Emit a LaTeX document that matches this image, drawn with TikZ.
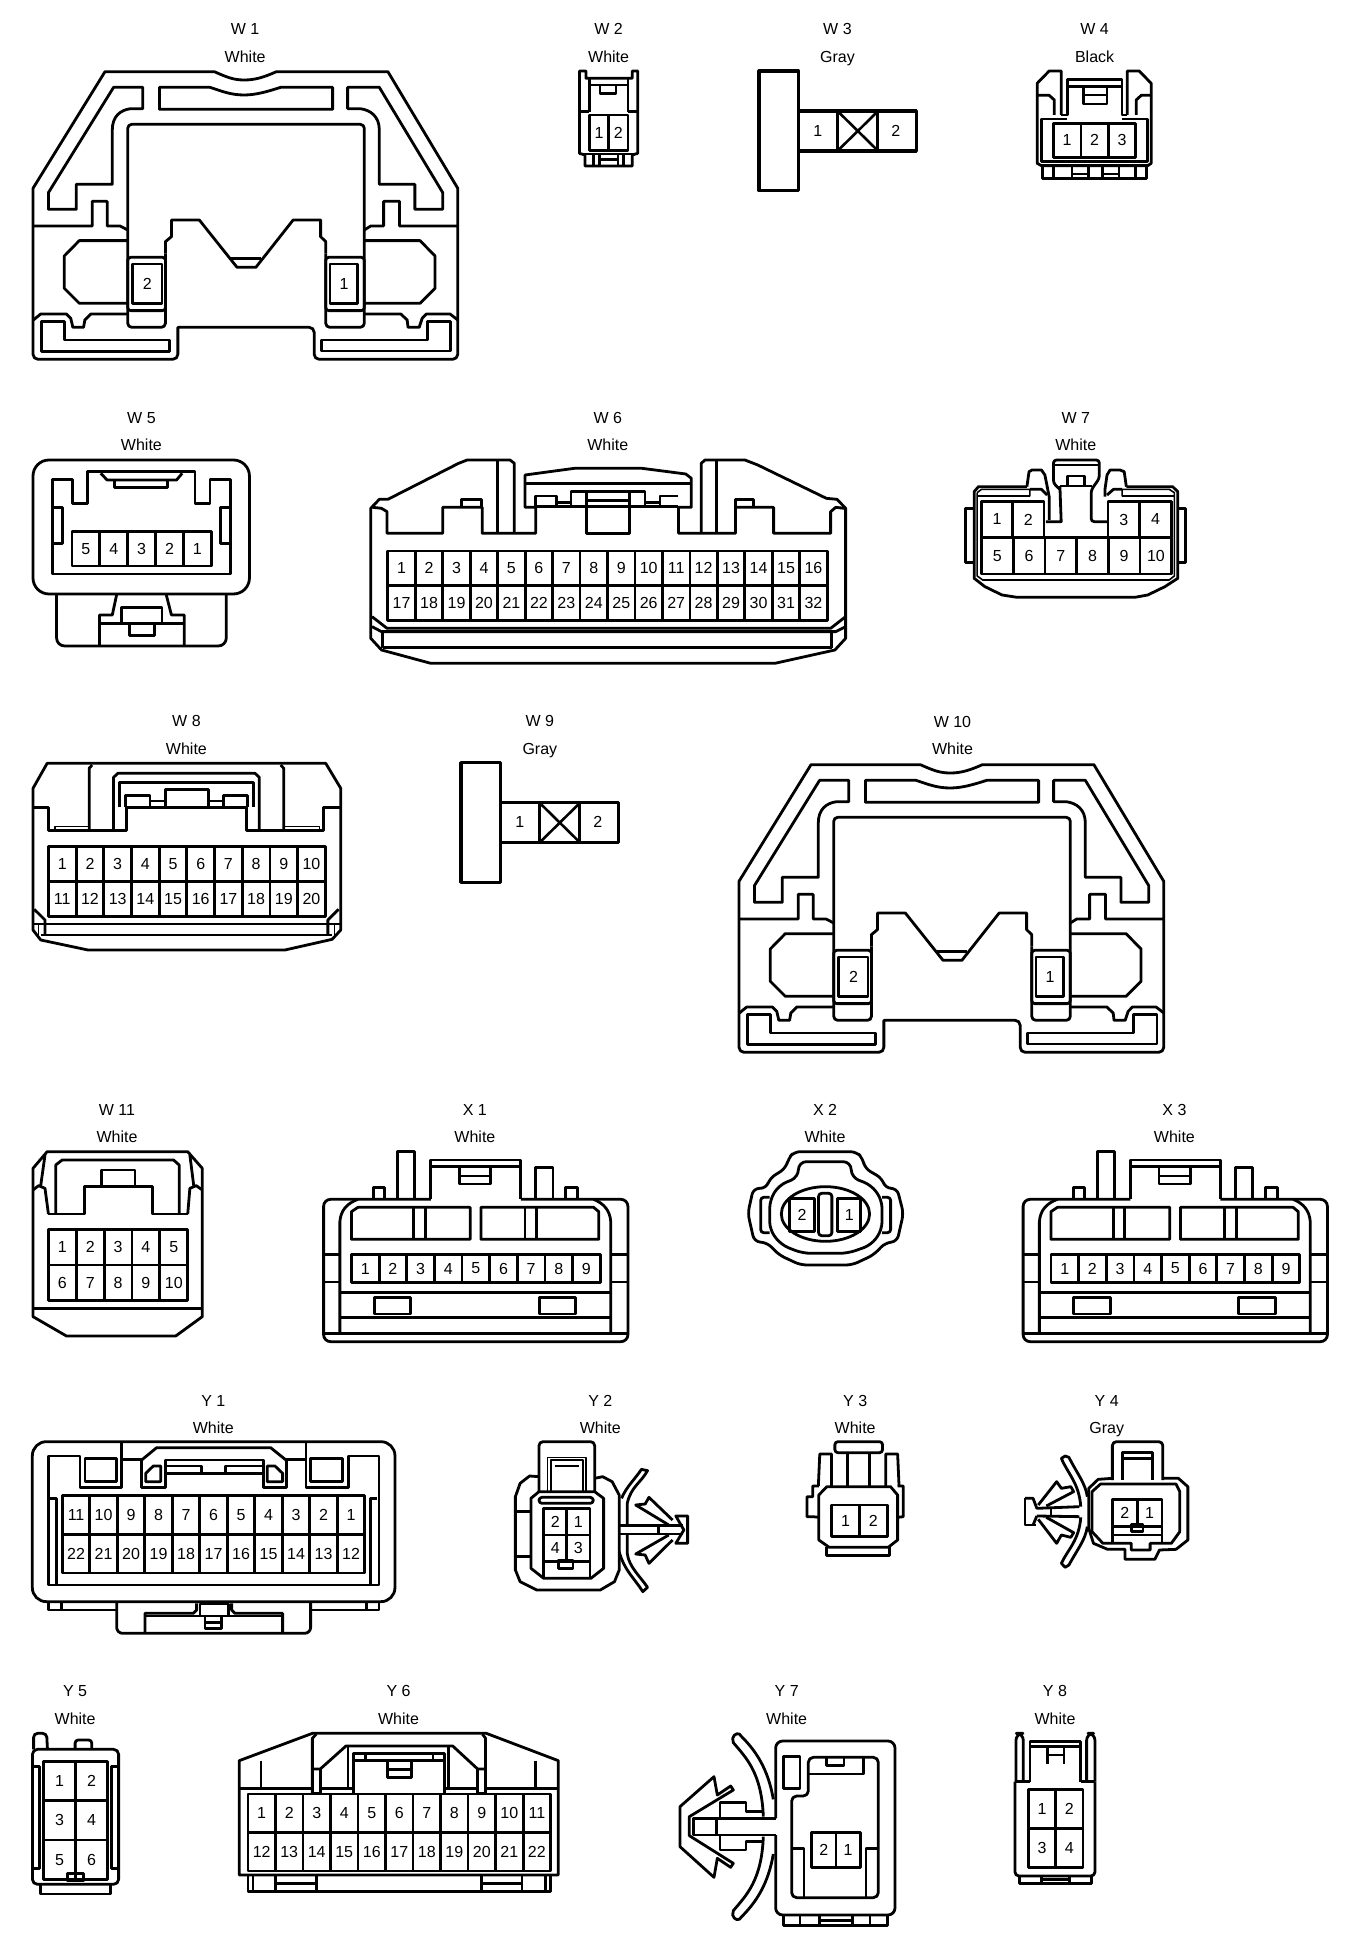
\documentclass[tikz,border=0pt]{standalone}
\usepackage{fontspec}
\setmainfont{Liberation Sans}
\usetikzlibrary{positioning}

% one cell per pin, left to right, wrapped after #6 columns
\newcommand{\pins}[7]{%
  \foreach \n [count=\i from 0] in {#7}{%
    \pgfmathtruncatemacro{\pincol}{mod(\i,#6)}%
    \pgfmathtruncatemacro{\pinrow}{int(\i/#6)}%
    \draw (#2+\pincol*#4,#3+\pinrow*#5) rectangle ++(#4,#5);
    \node[pin] (#1-\n) at (#2+\pincol*#4+0.5*#4,#3+\pinrow*#5+0.5*#5) {\n};
  }}
\newcommand{\conlabel}[5]{%
  \node[conlab] (#1name) at (#2,#3) {#4};
  \node[conlab] (#1col) at (#2,#3+82) {#5};}

% W1 and W10
\newcommand{\bracketbody}[1]{%
  \draw (245,215) -- (500,215) .. controls (530,232) and (545,240) .. (570,240) .. controls (595,240) and (615,232) .. (645,215) -- (905,215) -- (1068,565)
    [rounded corners=5pt] -- (1068,1078) -- (733,1078) -- (733,982) [sharp corners] -- (415,982) [rounded corners=5pt] -- (415,1078) -- (77,1078) [sharp corners] -- (77,565) -- cycle;
  \draw (265,262) -- (333,262) -- (333,326) -- (305,326) .. controls (280,330) and (262,350) .. (262,390) -- (262,553) -- (178,553) -- (178,628) -- (113,628) -- (113,578) -- cycle;
  \draw (885,262) -- (811,262) -- (811,326) -- (840,326) .. controls (865,330) and (885,350) .. (885,390) -- (885,553) -- (968,553) -- (968,628) -- (1033,628) -- (1033,578) -- cycle;
  \draw (372,262) -- (490,262) .. controls (520,275) and (540,285) .. (570,285) .. controls (600,285) and (630,272) .. (655,262) -- (776,262) -- (776,328) -- (372,328) -- cycle;
  \draw[rounded corners=4pt] (386,760) -- (386,982) -- (298,982) -- (298,373) -- (850,373) -- (850,982) -- (760,982) -- (760,760);
  \draw (760,760) -- (760,725) -- (748,710) -- (748,660) -- (684,660) -- (597,802) -- (553,802) -- (465,660) -- (400,660) -- (400,710) -- (386,725) -- (386,760);
  \draw (540,776) -- (608,776);
  \draw[rounded corners=3pt] (298,772) rectangle (386,932);
  \draw[rounded corners=3pt] (760,772) rectangle (850,932);
  \draw (77,678) -- (215,678) -- (215,604) -- (250,604) -- (250,678) -- (280,678) -- (298,690);
  \draw (1068,678) -- (932,678) -- (932,604) -- (895,604) -- (895,678) -- (865,678) -- (850,690);
  \draw (298,722) -- (185,722) -- (150,768) -- (150,865) -- (185,910) -- (298,910);
  \draw (850,722) -- (980,722) -- (1015,768) -- (1015,865) -- (980,910) -- (850,910);
  \draw (298,942) -- (212,942) -- (198,960) -- (195,982) -- (170,982) -- (165,955) -- (155,942) -- (95,942) -- (78,960);
  \draw (850,942) -- (935,942) -- (950,960) -- (952,982) -- (978,982) -- (985,955) -- (995,942) -- (1050,942) -- (1068,960);
  \draw (97,965) -- (150,965) -- (150,1020) -- (395,1020) -- (395,1055) -- (97,1055) -- cycle;
  \draw (1052,965) -- (997,965) -- (997,1020) -- (750,1020) -- (750,1053) -- (1052,1053) -- cycle;
  \pins{#1}{310}{792}{68}{118}{1}{2}
  \pins{#1}{770}{792}{65}{118}{1}{1}}

% W3 and W9
\newcommand{\flatbody}[1]{%
  \begin{scope}[line width=3.2pt]
  \draw (203,213) rectangle (295,572);
  \draw (295,333) -- (570,333) -- (570,453) -- (295,453);
  \draw (387,333) -- (387,453) (480,333) -- (480,453);
  \draw[line width=2.6pt] (390,338) -- (477,448) (477,338) -- (390,448);
  \end{scope}
  \node[pin] (#1-1) at (340,392) {1};
  \node[pin] (#1-2) at (522,392) {2};}

% X1 and X3
\newcommand{\widebody}[1]{%
  \draw[rounded corners=7pt] (1005,328) -- (755,328) -- (755,755) -- (1465,755) -- (1465,328) -- (1215,328);
  \draw (1005,328) -- (1005,210) -- (1215,210) -- (1215,328) (1005,230) -- (1215,230);
  \draw (755,730) -- (1465,730);
  \draw (793,730) -- (793,395) .. controls (795,360) and (810,340) .. (835,328);
  \draw (1425,730) -- (1425,395) .. controls (1423,360) and (1408,340) .. (1385,328);
  \draw (835,352) -- (1097,352) -- (1097,448) -- (820,448) -- (820,365) -- cycle;
  \draw (965,352) -- (965,448) (992,352) -- (992,448);
  \draw (1122,352) -- (1385,352) -- (1397,365) -- (1397,448) -- (1122,448) -- cycle;
  \draw (1225,352) -- (1225,448) (1252,352) -- (1252,448);
  \pins{#1}{820}{493}{64.5}{85}{9}{1,...,9}
  \draw (755,493) -- (793,493) (755,576) -- (793,576) (1425,493) -- (1465,493) (1425,576) -- (1465,576);
  \draw (793,608) -- (1425,608) (793,682) -- (1425,682);
  \draw (873,622) rectangle (958,672) (1258,622) rectangle (1343,672);
  \draw (1072,232) -- (1072,282) -- (1145,282) -- (1145,232) (1072,258) -- (1145,258);
  \draw (928,328) -- (928,185) -- (968,185) -- (968,328);
  \draw (1250,328) -- (1250,232) -- (1290,232) -- (1290,328);
  \draw (872,328) -- (872,292) -- (898,292) -- (898,328);
  \draw (1320,328) -- (1320,292) -- (1348,292) -- (1348,328);}

\begin{document}
\begin{tikzpicture}[line width=2.8pt,line join=round,
  crop/.style n args={3}{shift={(#1pt,-#2pt)},x=#3pt,y=-0.3333pt},
  fine/.style={line width=1.6pt},
  pin/.style={inner sep=0pt,font=\fontsize{16}{18}\selectfont},
  conlab/.style={inner sep=0pt,anchor=base,font=\fontsize{16}{18}\selectfont}]
  \useasboundingbox[fill=white] (0pt,0pt) rectangle (1344pt,-1948pt);

  % W1
  \begin{scope}[crop={0}{0}{0.4286}]
  \conlabel{W1}{572}{105}{W 1}{White}
  \bracketbody{W1}
  \end{scope}

  % W2
  \begin{scope}[crop={0}{0}{0.4286}]
  \conlabel{W2}{1420}{105}{W 2}{White}
  \draw (1352,213) -- (1367,213) -- (1367,235) -- (1475,235) -- (1475,213) -- (1488,213) -- (1488,460) -- (1475,465) -- (1475,498) -- (1365,498) -- (1365,465) -- (1352,460) -- cycle;
  \draw (1375,235) -- (1375,335) (1465,235) -- (1465,335) (1352,335) -- (1375,335) (1465,335) -- (1488,335);
  \draw (1375,255) -- (1465,255);
  \draw (1400,255) -- (1400,280) -- (1437,280) -- (1437,255);
  \pins{W2}{1375}{345}{45}{107}{2}{1,2}
  \draw (1352,462) -- (1488,462);
  \draw (1385,465) -- (1385,498) (1398,465) -- (1398,498) (1442,465) -- (1442,498) (1455,465) -- (1455,498) (1398,478) -- (1442,478);
  \end{scope}

  % W3
  \begin{scope}[crop={672}{0}{0.4286}]
  \conlabel{W3}{386}{105}{W 3}{Gray}
  \flatbody{W3}
  \end{scope}

  % W4
  \begin{scope}[crop={672}{0}{0.4286}]
  \conlabel{W4}{986}{105}{W 4}{Black}
  \draw (908,345) -- (908,213) -- (880,213) -- (852,250) -- (852,490) -- (862,497) -- (1110,497) -- (1118,490) -- (1118,250) -- (1090,213) -- (1062,213) -- (1062,345);
  \draw (908,345) -- (922,345) -- (922,238) -- (1050,238) -- (1050,345) -- (1062,345);
  \draw (922,260) -- (1050,260);
  \draw (960,260) -- (960,312) -- (1015,312) -- (1015,260) (960,285) -- (1015,285);
  \draw (852,286) -- (880,286) -- (892,300) -- (892,345);
  \draw (1118,286) -- (1095,286) -- (1083,300) -- (1083,345);
  \draw (922,357) -- (862,357) -- (862,484) -- (1110,484) -- (1110,357) -- (1050,357);
  \pins{W4}{890}{370}{64}{102}{3}{1,2,3}
  \draw (865,497) -- (865,536) -- (1107,536) -- (1107,497);
  \draw (890,497) -- (890,536) (933,497) -- (933,536) (972,497) -- (972,536) (1005,497) -- (1005,536) (1043,497) -- (1043,536) (1082,497) -- (1082,536);
  \draw (933,522) -- (972,522) (1005,522) -- (1043,522);
  \end{scope}

  % W5
  \begin{scope}[crop={0}{400}{0.4286}]
  \conlabel{W5}{330}{69}{W 5}{White}
  \draw[rounded corners=16pt] (77,180) rectangle (582,582);
  \draw (122,238) -- (170,238) -- (170,310) -- (205,310) -- (205,215) -- (455,215) -- (455,310) -- (490,310) -- (490,238) -- (537,238) -- (537,522) -- (122,522) -- cycle;
  \draw (122,322) -- (146,322) -- (146,430) -- (122,430);
  \draw (537,322) -- (515,322) -- (515,430) -- (537,430);
  \draw (235,220) -- (250,240) -- (412,240) -- (425,220);
  \draw (268,240) -- (268,262) -- (390,262) -- (390,240);
  \pins{W5}{168}{395}{65}{103}{5}{5,4,3,2,1}
  \draw[rounded corners=8pt] (132,582) -- (132,738) -- (528,738) -- (528,582);
  \draw (272,585) -- (262,645) -- (232,645) -- (232,738);
  \draw (388,585) -- (400,645) -- (430,645) -- (430,738);
  \draw (232,670) -- (430,670);
  \draw (283,670) -- (283,622) -- (378,622) -- (378,670);
  \draw (303,670) -- (303,706) -- (360,706) -- (360,670);
  \end{scope}

  % W6
  \begin{scope}[crop={0}{400}{0.4286}]
  \conlabel{W6}{1418}{69}{W 6}{White}
  \draw (1200,400) -- (1200,190) -- (1190,180) -- (1090,180) -- (1070,190) -- (905,298) -- (885,298) -- (865,325) -- (865,715) -- (890,750) -- (1005,790) -- (1808,790) -- (1948,750) -- (1973,715) -- (1973,325) -- (1953,298) -- (1928,295) -- (1768,195) -- (1738,180) -- (1645,180) -- (1636,190) -- (1636,400);
  \draw (1160,180) -- (1160,400) (1672,180) -- (1672,400);
  \draw (870,322) -- (890,325) -- (903,335) -- (903,400) -- (1033,400) -- (1033,322) -- (1125,322) -- (1125,400) -- (1250,400) -- (1250,322) -- (1225,322) -- (1225,225) -- (1340,205) -- (1498,205) -- (1600,222) -- (1613,235) -- (1613,322) -- (1583,322) -- (1583,400) -- (1716,400) -- (1716,322) -- (1805,322) -- (1805,400) -- (1938,400) -- (1938,335) -- (1950,322) -- (1970,325);
  \draw (1077,322) -- (1077,298) -- (1123,298) -- (1123,322);
  \draw (1716,322) -- (1716,298) -- (1758,298) -- (1758,322);
  \draw (1225,250) -- (1613,250);
  \draw (1250,320) -- (1250,288) -- (1298,288) -- (1298,320) (1298,308) -- (1332,308);
  \draw (1332,320) -- (1332,275) -- (1505,275) -- (1505,320) (1505,308) -- (1540,308);
  \draw (1540,320) -- (1540,288) -- (1583,288);
  \draw (1368,275) -- (1368,400) -- (1468,400) -- (1468,275) (1368,302) -- (1468,302);
  \draw (1250,320) -- (1583,320);
  \pins{W6}{905}{453}{64.06}{104.5}{16}{1,...,32}
  \draw (868,650) -- (903,685) -- (1938,685) -- (1973,650);
  \draw (868,680) -- (890,695) -- (1950,695) -- (1973,680);
  \draw (893,692) -- (893,745) (1940,692) -- (1940,745) (893,743) -- (1940,743);
  \end{scope}

  % W7
  \begin{scope}[crop={672}{400}{0.4286}]
  \conlabel{W7}{942}{69}{W 7}{White}
  \draw (828,260) -- (715,260) -- (705,275) -- (705,535) -- (730,560) -- (770,585) -- (805,592) -- (1080,592) -- (1110,585) -- (1150,560) -- (1180,535) -- (1180,275) -- (1168,260) -- (1060,260);
  \draw[fine] (712,278) -- (712,528) -- (725,540) -- (1160,540) -- (1172,528) -- (1172,278) -- (1160,268) -- (1050,268) -- (1050,288) -- (1172,288);
  \draw[fine] (712,288) -- (835,288) -- (835,268) -- (722,268) -- (712,278);
  \pins{W7a}{722}{305}{73}{107}{2}{1,2}
  \pins{W7b}{1017}{305}{74}{107}{2}{3,4}
  \pins{W7c}{722}{412}{74}{110}{6}{5,...,10}
  \draw[rounded corners=3pt] (905,268) -- (890,250) -- (890,180) -- (997,180) -- (997,235) -- (978,270) -- (978,365) -- (1015,365);
  \draw (890,195) -- (997,195);
  \draw (905,258) -- (980,258) (922,258) -- (922,228) -- (962,228) -- (962,258);
  \draw (905,258) -- (908,365) -- (872,365);
  \draw (828,260) -- (833,215) -- (840,210) -- (862,210) -- (870,225) -- (880,290) -- (880,360);
  \draw (1060,260) -- (1055,215) -- (1045,210) -- (1022,210) -- (1015,225) -- (1010,270) -- (1010,290);
  \draw (835,268) -- (862,268) -- (875,285) (1050,268) -- (1030,268) -- (1015,285);
  \draw (705,325) -- (685,325) -- (685,487) -- (705,487);
  \draw (1180,325) -- (1198,325) -- (1198,487) -- (1180,487);
  \end{scope}

  % W8
  \begin{scope}[crop={0}{700}{0.4286}]
  \conlabel{W8}{435}{80}{W 8}{White}
  \draw (110,190) -- (760,190) -- (795,265) -- (795,690) -- (775,718) -- (665,750) -- (205,750) -- (95,720) -- (77,690) -- (77,265) -- cycle;
  \draw (77,322) -- (113,322) -- (113,392) -- (295,392) -- (295,322) -- (575,322) -- (575,392) -- (755,392) -- (755,322) -- (795,322);
  \draw (208,392) -- (208,205) -- (215,195) (662,392) -- (662,205) -- (655,195);
  \draw (265,392) -- (265,232) -- (275,220) -- (595,220) -- (605,232) -- (605,392);
  \draw (278,322) -- (278,248) -- (592,248) -- (592,322);
  \draw (292,322) -- (292,287) -- (350,287) -- (350,320) (350,303) -- (387,303);
  \draw (387,322) -- (387,268) -- (487,268) -- (487,322) (487,303) -- (522,303);
  \draw (522,322) -- (522,287) -- (578,287) -- (578,322);
  \draw[fine] (128,392) -- (128,380) -- (208,380) (662,380) -- (745,380) -- (745,392);
  \pins{W8}{113}{440}{64.6}{105}{10}{1,...,20}
  \draw (77,672) -- (795,672) (95,705) -- (775,705);
  \draw (80,628) -- (105,660) -- (105,705) (790,628) -- (765,660) -- (765,705);
  \draw[fine] (90,672) -- (90,705) (780,672) -- (780,705);
  \end{scope}

  % W9
  \begin{scope}[crop={374}{691.7}{0.4286}]
  \conlabel{W9}{387}{105}{W 9}{Gray}
  \flatbody{W9}
  \end{scope}

  % W10
  \begin{scope}[crop={706}{693}{0.4286}]
  \conlabel{W10}{575}{102}{W 10}{White}
  \bracketbody{W10}
  \end{scope}

  % W11
  \begin{scope}[crop={0}{1090}{0.4286}]
  \conlabel{W11}{273}{75}{W 11}{White}
  \draw (110,185) -- (438,185) -- (472,235) -- (472,680) -- (410,738) -- (155,738) -- (77,680) -- (77,235) -- cycle;
  \draw (77,655) -- (472,655);
  \draw (113,372) -- (197,372) -- (197,290) -- (355,290) -- (355,372) -- (438,372);
  \draw (237,290) -- (237,240) -- (315,240) -- (315,290);
  \draw (130,372) -- (130,225) -- (145,210) -- (405,210) -- (418,225) -- (418,372);
  \draw (77,300) -- (90,287) -- (105,295) -- (113,372) (105,195) -- (95,287);
  \draw (472,300) -- (458,287) -- (443,295) -- (438,372) (443,195) -- (452,287);
  \pins{W11}{113}{418}{65}{107}{5}{1,...,10}
  \end{scope}

  % X1
  \begin{scope}[crop={0}{1090}{0.4286}]
  \conlabel{X1}{1108}{75}{X 1}{White}
  \widebody{X1}
  \end{scope}

  % X2
  \begin{scope}[crop={672}{1090}{0.4286}]
  \conlabel{X2}{357}{75}{X 2}{White}
  \draw[rounded corners=6pt] (285,185) -- (430,185) -- (445,205) -- (450,235) -- (490,265) -- (498,295) -- (525,295) -- (540,370) -- (525,455) -- (498,458) -- (470,495) -- (420,525) -- (300,525) -- (250,495) -- (222,458) -- (192,455) -- (177,370) -- (190,295) -- (220,295) -- (228,265) -- (265,235) -- (272,205) -- cycle;
  \draw[rounded corners=8pt] (295,262) -- (295,215) -- (418,215) -- (418,262) -- (465,285) -- (490,330) -- (490,420) -- (465,465) -- (410,490) -- (305,490) -- (255,465) -- (228,420) -- (228,330) -- (250,285) -- cycle;
  \draw (358,372) ellipse [x radius=103,y radius=82];
  \pins{X2}{275}{325}{57}{100}{1}{2}
  \pins{X2}{387}{325}{53}{100}{1}{1}
  \draw[rounded corners=3pt] (342,310) rectangle (373,437);
  \draw[rounded corners=3pt] (228,322) -- (207,322) -- (207,428) -- (228,428);
  \draw[rounded corners=3pt] (490,322) -- (510,322) -- (510,428) -- (490,428);
  \end{scope}

  % X3
  \begin{scope}[crop={699.5}{1090}{0.4286}]
  \conlabel{X3}{1108}{75}{X 3}{White}
  \widebody{X3}
  \end{scope}

  % Y1
  \begin{scope}[crop={0}{1380}{0.3333}]
  \conlabel{Y1}{640}{78}{Y 1}{White}
  \draw[rounded corners=14pt] (97,185) rectangle (1185,665);
  \draw (145,615) -- (145,228) -- (240,228) -- (240,322) -- (365,322) -- (365,238) -- (425,238) -- (425,322) -- (497,322) -- (497,240) -- (790,240) -- (790,322) -- (860,322) -- (860,238) -- (918,238) -- (918,322) -- (1045,322) -- (1045,228) -- (1137,228) -- (1137,615) -- cycle;
  \draw (365,185) -- (365,238) (918,185) -- (918,238);
  \draw (425,240) -- (470,203) -- (812,203) -- (858,240);
  \draw (255,235) rectangle (350,305) (932,235) rectangle (1027,305);
  \draw (437,305) -- (437,280) -- (460,258) -- (482,258) -- (482,305) -- cycle;
  \draw (848,305) -- (848,280) -- (825,258) -- (802,258) -- (802,305) -- cycle;
  \draw (497,258) -- (605,258) -- (605,280) (497,280) -- (790,280) (677,280) -- (677,258) -- (790,258);
  \pins{Y1}{187}{347}{82.5}{116}{11}{11,10,9,8,7,6,5,4,3,2,1,22,21,20,19,18,17,16,15,14,13,12}
  \draw (150,355) -- (170,355) -- (170,612) (1132,355) -- (1112,355) -- (1112,612);
  \draw (145,665) -- (145,690) -- (350,690) (185,665) -- (185,688);
  \draw (1137,665) -- (1137,690) -- (932,690) (1100,665) -- (1100,688);
  \draw[rounded corners=6pt] (350,665) -- (350,760) -- (932,760) -- (932,665);
  \draw (435,760) -- (435,700) -- (580,700) -- (590,690) -- (590,670);
  \draw (848,760) -- (848,700) -- (705,700) -- (695,690) -- (695,670);
  \draw (435,708) -- (848,708);
  \draw (600,708) -- (600,672) -- (685,672) -- (685,708);
  \draw (615,708) -- (615,745) -- (665,745) -- (665,708) (615,728) -- (665,728);
  \end{scope}

  % Y2
  \begin{scope}[crop={480}{1380}{0.4719}]
  \conlabel{Y2}{255}{78}{Y 2}{White}
  \draw[rounded corners=4pt] (125,335) -- (125,185) -- (243,185) -- (243,335);
  \draw (125,290) -- (105,288) -- (85,310) -- (75,350) -- (75,570) -- (85,605) -- (120,630) -- (255,630) -- (285,605) -- (295,570) -- (295,345) -- (280,305) -- (260,290) -- (243,295);
  \draw[fine] (143,335) -- (143,233) -- (225,233) -- (225,335);
  \draw[fine] (150,335) -- (150,240) -- (218,240) -- (218,335);
  \draw (158,258) -- (210,258);
  \draw (108,395) -- (108,355) -- (125,335) -- (243,335) -- (262,355) -- (262,565) -- (235,595) -- (135,595) -- (108,565) -- cycle;
  \draw[rounded corners=3pt] (125,352) rectangle (240,370);
  \pins{Y2}{135}{385}{49}{80}{2}{2,1,4,3}
  \draw (135,545) -- (135,595) (233,545) -- (233,595) (167,540) rectangle (197,565);
  \draw (78,395) -- (108,395) (78,530) -- (108,530);
  \draw (300,355) .. controls (310,320) and (330,295) .. (342,268) -- (355,272) .. controls (340,310) and (320,320) .. (312,370) -- (312,435);
  \draw (312,465) -- (312,520) .. controls (315,560) and (340,590) .. (355,622) -- (345,635) .. controls (330,600) and (305,570) .. (295,515);
  \draw (297,437) -- (430,437) (297,462) -- (430,462) (378,437) -- (378,462);
  \draw (400,435) -- (330,375) -- (350,372) -- (358,352) -- (408,420);
  \draw (400,465) -- (330,522) -- (350,525) -- (358,550) -- (408,480);
  \draw (415,408) -- (440,408) -- (440,490) -- (415,490) -- (432,450) -- cycle;
  \end{scope}

  % Y3
  \begin{scope}[crop={480}{1380}{0.4719}]
  \conlabel{Y3}{795}{78}{Y 3}{White}
  \draw[rounded corners=3pt] (752,185) rectangle (853,218);
  \draw (778,218) -- (778,318) (825,218) -- (825,318);
  \draw (745,318) -- (745,222) -- (720,222) -- (717,318);
  \draw (860,318) -- (860,222) -- (885,222) -- (888,318);
  \draw (718,345) -- (735,320) -- (870,320) -- (885,345) -- (885,480) -- (865,502) -- (740,502) -- (718,480) -- cycle;
  \draw (718,318) -- (705,318) -- (705,350) -- (693,350) -- (693,410) -- (705,410) -- (718,412);
  \draw (885,318) -- (897,318) -- (897,410) -- (885,412);
  \draw (735,502) -- (735,527) -- (868,527) -- (868,502);
  \pins{Y3}{745}{375}{59}{95}{2}{1,2}
  \end{scope}

  % Y4
  \begin{scope}[crop={480}{1380}{0.4719}]
  \conlabel{Y4}{1328}{78}{Y 4}{Gray}
  \draw[rounded corners=4pt] (1340,300) -- (1340,185) -- (1447,185) -- (1447,300);
  \draw (1362,300) -- (1362,218) -- (1425,218) -- (1425,300) (1362,235) -- (1425,235);
  \draw (1340,295) -- (1310,298) -- (1290,325) -- (1290,445) -- (1300,490) -- (1330,508) -- (1367,508) -- (1367,538) -- (1430,538) -- (1440,510) -- (1475,508) -- (1500,480) -- (1500,320) -- (1480,295) -- (1447,295);
  \draw (1297,335) -- (1315,312) -- (1475,312) -- (1483,335) -- (1483,455) -- (1465,490) -- (1420,490) -- (1420,510) -- (1380,510) -- (1380,490) -- (1320,490) -- (1297,455) -- cycle;
  \pins{Y4}{1340}{358}{52.5}{82}{2}{2,1}
  \draw (1340,440) -- (1340,490) (1445,440) -- (1445,490) (1340,465) -- (1445,465) (1380,433) rectangle (1405,455);
  \draw (1273,380) .. controls (1270,310) and (1245,280) .. (1232,235) -- (1240,228) -- (1248,232) .. controls (1265,280) and (1283,310) .. (1287,350);
  \draw (1273,412) .. controls (1270,480) and (1245,510) .. (1232,550) -- (1240,562) -- (1248,555) .. controls (1265,510) and (1283,480) .. (1287,440);
  \draw (1155,355) -- (1172,355) -- (1180,385) -- (1270,380) (1180,408) -- (1270,410) (1172,435) -- (1180,408);
  \draw (1155,355) -- (1155,435) -- (1178,435) (1210,382) -- (1210,408);
  \draw (1183,375) -- (1222,305) -- (1232,325) -- (1252,320) -- (1258,335) -- (1200,378);
  \draw (1183,418) -- (1222,490) -- (1232,465) -- (1252,472) -- (1258,458) -- (1200,412);
  \end{scope}

  % Y5
  \begin{scope}[crop={0}{1670}{0.3954}]
  \conlabel{Y5}{190}{80}{Y 5}{White}
  \draw[rounded corners=5pt] (82,238) rectangle (300,643);
  \draw (102,643) -- (102,672) -- (280,672) -- (280,643);
  \draw[rounded corners=4pt] (85,238) -- (85,190) -- (118,190) -- (120,238);
  \draw[rounded corners=3pt] (190,238) -- (190,210) -- (232,210) -- (232,238);
  \pins{Y5}{110}{275}{81}{117.5}{2}{1,...,6}
  \draw (85,290) -- (100,290) -- (100,595) -- (85,595);
  \draw (297,290) -- (282,290) -- (282,595) -- (297,595);
  \draw (170,610) rectangle (212,633);
  \end{scope}

  % Y6
  \begin{scope}[crop={0}{1670}{0.3954}]
  \conlabel{Y6}{1008}{80}{Y 6}{White}
  \draw (605,272) -- (790,190) -- (1230,190) -- (1412,272) -- (1412,615) -- (605,615) -- cycle;
  \draw (605,355) -- (790,355) (1228,355) -- (1412,355);
  \draw (660,272) -- (660,355) (1355,272) -- (1355,355);
  \pins{Y6}{627}{372}{69.6}{115.5}{11}{1,...,22}
  \draw (790,370) -- (790,205) -- (800,192) (1228,370) -- (1228,205) -- (1220,192);
  \draw (790,297) -- (810,297) -- (875,228) -- (1145,228) -- (1208,297) -- (1228,297);
  \draw (790,370) -- (810,370) -- (810,297) (1228,370) -- (1208,370) -- (1208,297);
  \draw (810,355) -- (895,355) (1125,355) -- (1208,355);
  \draw (880,228) -- (880,355) (1135,228) -- (1135,355);
  \draw (895,370) -- (895,250) -- (1125,250) -- (1125,370);
  \draw (895,272) -- (1125,272) (925,250) -- (925,272) (1095,250) -- (1095,272);
  \draw (980,272) -- (980,322) -- (1040,322) -- (1040,272) (980,298) -- (1040,298);
  \draw (627,615) -- (627,665) -- (1393,665) -- (1393,615);
  \draw (640,615) -- (640,665) (1380,615) -- (1380,665) (697,615) -- (697,665) (800,615) -- (800,665) (1218,615) -- (1218,665) (1320,615) -- (1320,665);
  \draw (697,640) -- (800,640) (1218,640) -- (1320,640);
  \end{scope}

  % Y7
  \begin{scope}[crop={640}{1670}{0.3333}]
  \conlabel{Y7}{440}{80}{Y 7}{White}
  \draw[rounded corners=7pt] (407,445) -- (407,213) -- (765,213) -- (765,735) -- (407,735) -- (407,495);
  \draw (430,735) -- (430,767) -- (742,767) -- (742,735);
  \draw (480,735) -- (480,767) (538,735) -- (538,767) (637,735) -- (637,767) (690,735) -- (690,767) (538,752) -- (637,752);
  \draw[rounded corners=5pt] (455,683) -- (455,378) -- (505,378) -- (505,262) -- (715,262) -- (715,683) -- cycle;
  \draw (430,260) rectangle (480,355);
  \draw (505,312) -- (670,312) -- (670,262) (560,265) -- (560,287) -- (612,287) -- (612,265);
  \pins{Y7}{515}{487}{73}{106}{2}{2,1}
  \draw (455,535) -- (492,535) -- (492,680) (715,535) -- (678,535) -- (678,680);
  \draw (400,388) .. controls (385,300) and (350,245) .. (305,200) .. controls (298,185) and (282,190) .. (278,205) -- (280,218) .. controls (320,265) and (365,310) .. (370,440);
  \draw (400,552) .. controls (385,640) and (350,695) .. (305,740) .. controls (298,755) and (282,750) .. (278,735) -- (280,722) .. controls (320,675) and (365,630) .. (370,500);
  \draw (407,445) -- (160,445) -- (160,495) -- (407,495) (230,445) -- (230,495);
  \draw (148,440) -- (280,360) -- (272,348) -- (232,375) -- (222,320) -- (120,410) -- (120,530) -- (222,622) -- (232,565) -- (272,592) -- (280,580) -- (148,497) -- cycle;
  \draw (240,445) -- (240,398) -- (318,398) -- (318,425) -- (365,425);
  \draw (240,495) -- (240,540) -- (318,540) -- (318,515) -- (365,515);
  \end{scope}

  % Y8
  \begin{scope}[crop={640}{1670}{0.3333}]
  \conlabel{Y8}{1245}{80}{Y 8}{White}
  \draw[rounded corners=4pt] (1125,335) -- (1125,618) -- (1365,618) -- (1365,335);
  \draw (1125,335) -- (1170,335) (1322,335) -- (1365,335);
  \draw[rounded corners=7pt] (1128,335) -- (1128,190) -- (1150,190) -- (1150,335);
  \draw[rounded corners=7pt] (1340,335) -- (1340,190) -- (1365,190) -- (1365,335);
  \draw (1170,335) -- (1170,215) -- (1322,215) -- (1322,335) (1170,230) -- (1322,230);
  \draw (1222,230) -- (1222,282) (1272,230) -- (1272,282) (1222,255) -- (1272,255);
  \pins{Y8}{1165}{358}{82}{117}{2}{1,...,4}
  \draw (1138,618) -- (1138,640) -- (1355,640) -- (1355,618);
  \draw (1205,618) -- (1205,640) (1288,618) -- (1288,640) (1205,628) -- (1288,628);
  \end{scope}
\end{tikzpicture}
\end{document}
